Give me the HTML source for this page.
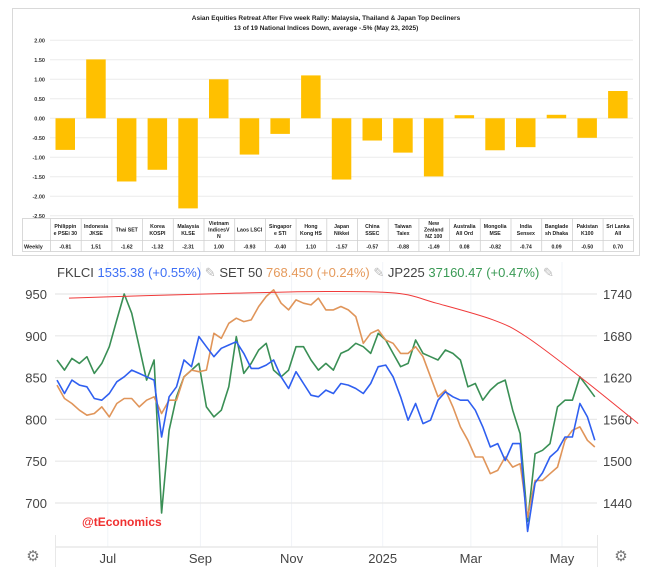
<!DOCTYPE html>
<html><head><meta charset="utf-8">
<style>
html,body{margin:0;padding:0;background:#fff;width:652px;height:573px;overflow:hidden;font-family:"Liberation Sans",Arial,sans-serif;}
svg{position:absolute;left:0;top:0;}
</style></head>
<body>
<svg id="top" width="652" height="260" viewBox="0 0 652 260">
<rect x="12.5" y="8.5" width="627" height="247" fill="#fff" stroke="#d9d9d9"/>
<text x="326" y="20" text-anchor="middle" font-size="6.5" font-weight="bold" fill="#222">Asian Equities Retreat After Five week Rally: Malaysia, Thailand &amp; Japan Top Decliners</text>
<text x="326" y="30" text-anchor="middle" font-size="6.5" font-weight="bold" fill="#222">13 of 19 National Indices Down, average -.5% (May 23, 2025)</text>
<g id="tg"></g><g id="tb"></g><g id="tt"></g>
</svg>
<svg id="bot" width="652" height="573" viewBox="0 0 652 573" style="top:0">
<g id="bg"></g><g id="bl"></g>
<text x="57" y="277" font-size="13"><tspan fill="#444">FKLCI </tspan><tspan fill="#3d6ff5">1535.38 (+0.55%)</tspan><tspan fill="#bbb"> ✎ </tspan><tspan fill="#444">SET 50 </tspan><tspan fill="#e59a5c">768.450 (+0.24%)</tspan><tspan fill="#bbb"> ✎ </tspan><tspan fill="#444">JP225 </tspan><tspan fill="#3a9a55">37160.47 (+0.47%)</tspan><tspan fill="#bbb"> ✎</tspan></text>
<text x="82" y="526" font-size="12" font-weight="bold" fill="#f03030">@tEconomics</text>
<text x="33" y="561" font-size="15" fill="#777" text-anchor="middle">⚙</text>
<text x="621" y="561" font-size="15" fill="#777" text-anchor="middle">⚙</text>
</svg>
<script>
const labels=[["Philippin","e PSEi 30"],["Indonesia","JKSE"],["Thai SET"],["Korea","KOSPI"],["Malaysia","KLSE"],["Vietnam","IndicesV","N"],["Laos LSCI"],["Singapor","e STI"],["Hong","Kong HS"],["Japan","Nikkei"],["China","SSEC"],["Taiwan","Taiex"],["New","Zealand","NZ 100"],["Australia","All Ord"],["Mongolia","MSE"],["India","Sensex"],["Banglade","sh Dhaka"],["Pakistan","K100"],["Sri Lanka","All"]];
const weekly=[-0.81,1.51,-1.62,-1.32,-2.31,1.00,-0.93,-0.40,1.10,-1.57,-0.57,-0.88,-1.49,0.08,-0.82,-0.74,0.09,-0.50,0.70];
const yTicks=[2.00,1.50,1.00,0.50,0.00,-0.50,-1.00,-1.50,-2.00,-2.50];

const fklci=[847,831,847,841,839,825,823,831,845,851,859,855,851,847,779,827,839,871,863,899,887,875,885,889,893,879,861,861,865,871,851,837,857,843,829,827,835,
831,843,841,837,831,843,863,865,851,827,799,819,795,799,823,833,827,823,823,811,791,767,771,751,771,771,666,724,736,755,763,779,779,819,803,775];
const set50=[841,825,819,811,805,807,815,803,819,825,825,815,823,827,807,823,823,851,859,857,859,903,897,915,921,917,919,935,947,955,939,931,943,939,937,945,931,
931,935,931,923,891,903,907,895,891,879,879,887,875,851,827,835,815,791,775,755,755,735,739,755,743,747,683,727,727,735,743,775,787,791,775,767];
const jp225=[871,859,873,867,875,855,867,887,919,950,927,887,847,871,688,787,827,851,859,867,815,803,811,839,899,855,867,883,891,859,851,859,887,887,871,859,867,
859,879,883,891,887,879,903,895,879,863,867,895,879,875,871,883,879,871,839,843,823,835,843,847,811,783,678,759,763,771,815,823,823,851,839,827];
const trendDays=[8,60,120,180,227,254,292,314,350,389];
const trendVals=[945,948,951,953,951,939,919,899,851,795];
const leftTicks=[950,900,850,800,750,700];
const rightTicks=[1740,1680,1620,1560,1500,1440];
const monthLabels=["Jul","Sep","Nov","2025","Mar","May"];
const monthDays=[34,96,157,218,277,338];
const stepDays=5;

const NS="http://www.w3.org/2000/svg";
function mk(tag,attrs,parent){const e=document.createElementNS(NS,tag);for(const k in attrs)e.setAttribute(k,attrs[k]);parent.appendChild(e);return e;}

// top chart
const tyScale=v=>118.3-v*39;
const colX=i=>50+i*30.7;
const tg=document.getElementById('tg'),tb=document.getElementById('tb'),tt=document.getElementById('tt');
yTicks.forEach(v=>{
  const l=mk('line',{x1:50,x2:633,y1:tyScale(v),y2:tyScale(v),stroke:'#ececec','stroke-width':1},tg);
  
  
  const t=mk('text',{x:45,y:tyScale(v)+2,'text-anchor':'end','font-size':5.5,'font-weight':'bold',fill:'#333'},tg);
  t.textContent=v.toFixed(2);
  
  
});
weekly.forEach((v,i)=>{
  const y0=tyScale(0),y1=tyScale(v);
  const r=mk('rect',{x:colX(i)+5.5,width:19.5,y:Math.min(y0,y1),height:Math.abs(y1-y0),fill:'#ffc000'},tb);
  
  
});
// table
mk('rect',{x:22.5,y:218.5,width:611,height:33,fill:'none',stroke:'#d0d0d0','stroke-width':0.8},tt);
mk('line',{x1:22.5,x2:633.5,y1:240.5,y2:240.5,stroke:'#d0d0d0','stroke-width':0.8},tt);
labels.forEach((lab,i)=>{
  const cx=colX(i)+15.35;
  mk('line',{x1:colX(i)+.5,x2:colX(i)+.5,y1:218.5,y2:251.5,stroke:'#d0d0d0','stroke-width':0.8},tt);
  const top=229.5-(lab.length-1)*3.3;
  lab.forEach((s,j)=>{
    const t=mk('text',{x:cx,y:top+j*6.6+2,'text-anchor':'middle','font-size':5.2,'font-weight':'bold',fill:'#222'},tt);
    t.textContent=s;
    
    
  });
  const t=mk('text',{x:cx,y:248.5,'text-anchor':'middle','font-size':5.2,'font-weight':'bold',fill:'#222'},tt);
  t.textContent=weekly[i].toFixed(2);
  
  
});
const wl=mk('text',{x:24,y:248.5,'font-size':5.5,'font-weight':'bold',fill:'#222'},tt);
wl.textContent='Weekly';



// bottom chart
const xDay=d=>57+d*1.494;
const yL=v=>294+(950-v)*41.8/50;
const yR=v=>294+(1740-v)*41.8/60;
const bg=document.getElementById('bg'),bl=document.getElementById('bl');
monthDays.forEach((d,i)=>{
  const l=mk('line',{x1:xDay(d),x2:xDay(d),y1:262,y2:547,stroke:'#f1f4f8','stroke-width':1},bg);
  
  
  const t=mk('text',{x:xDay(d),y:563,'text-anchor':'middle','font-size':13,fill:'#444'},bg);
  t.textContent=monthLabels[i];
  
  
});
leftTicks.forEach(v=>{
  const l=mk('line',{x1:55,x2:597,y1:yL(v),y2:yL(v),stroke:'#e8e8e8','stroke-width':1.2},bg);
  
  
  const t=mk('text',{x:47,y:yL(v)+5,'text-anchor':'end','font-size':13,fill:'#444'},bg);
  t.textContent=v;
  
  
});
rightTicks.forEach(v=>{
  const t=mk('text',{x:603,y:yR(v)+5,'font-size':13,fill:'#444'},bg);
  t.textContent=v;
  
  
});
mk('line',{x1:55,x2:597,y1:547,y2:547,stroke:'#e8e8e8','stroke-width':1.5},bg);
mk('line',{x1:55.5,x2:55.5,y1:535,y2:567,stroke:'#e8e8e8','stroke-width':1},bg);
mk('line',{x1:597.5,x2:597.5,y1:535,y2:567,stroke:'#e8e8e8','stroke-width':1},bg);

function line(vals,color,name){
  const pts=vals.map((v,i)=>xDay(i*stepDays).toFixed(1)+','+yL(v).toFixed(1)).join(' ');
  const p=mk('polyline',{points:pts,fill:'none',stroke:color,'stroke-width':1.6,'stroke-linejoin':'round'},bl);
  
  
}
line(jp225,'#3a8f55','jp225-line');
line(set50,'#e0955a','set50-line');
line(fklci,'#2f5ff0','fklci-line');
// trend curve (catmull-rom)
const tp=trendDays.map((d,i)=>[xDay(d),yL(trendVals[i])]);
let dstr='M'+tp[0][0]+','+tp[0][1];
for(let i=0;i<tp.length-1;i++){
  const p0=tp[Math.max(0,i-1)],p1=tp[i],p2=tp[i+1],p3=tp[Math.min(tp.length-1,i+2)];
  const c1=[p1[0]+(p2[0]-p0[0])/6,p1[1]+(p2[1]-p0[1])/6],c2=[p2[0]-(p3[0]-p1[0])/6,p2[1]-(p3[1]-p1[1])/6];
  dstr+=` C${c1[0]},${c1[1]} ${c2[0]},${c2[1]} ${p2[0]},${p2[1]}`;
}
const tr=mk('path',{d:dstr,fill:'none',stroke:'#f03a3a','stroke-width':1},bl);


</script>
</body></html>
